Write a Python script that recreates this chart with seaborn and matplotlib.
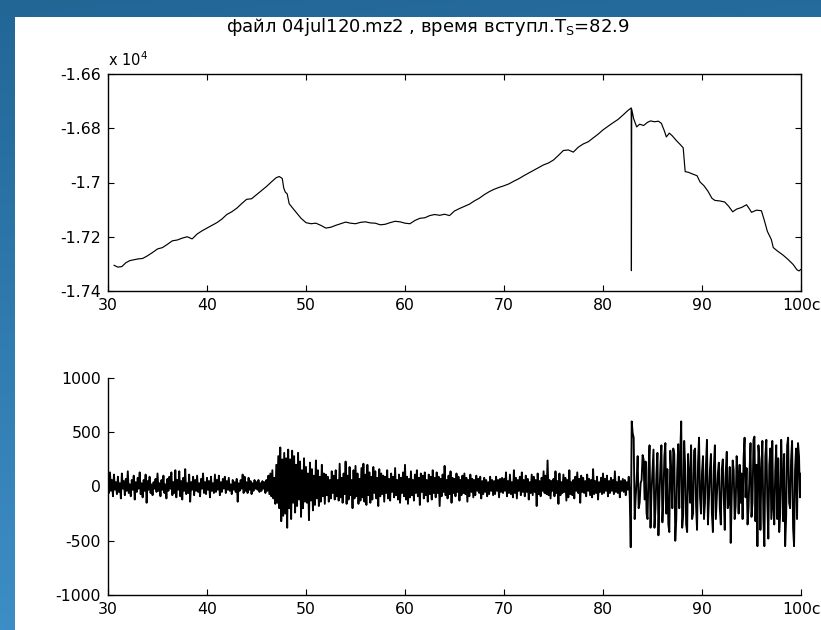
import numpy as np
import pandas as pd
import matplotlib
matplotlib.use("Agg")
import matplotlib.pyplot as plt
from matplotlib.patches import Rectangle
import seaborn as sns

# ---------------- data ----------------
title_text = "файл 04jul120.mz2 , время вступл.T$_S$=82.9"
x_ticks = [30, 40, 50, 60, 70, 80, 90, 100]
x_tick_labels = ["30", "40", "50", "60", "70", "80", "90", "100c"]
top_y_ticks = [-1.74, -1.72, -1.70, -1.68, -1.66]
top_y_labels = ["-1.74", "-1.72", "-1.7", "-1.68", "-1.66"]
bot_y_ticks = [-1000, -500, 0, 500, 1000]
bot_y_labels = ["-1000", "-500", "0", "500", "1000"]

# upper trace (raw units)
t_top = [30.6, 31.0, 31.4, 31.8, 32.2, 32.6, 33.0, 33.5, 34.0, 34.5, 35.0, 35.5, 36.0, 36.5,
         37.0, 37.5, 38.0, 38.5, 39.0, 39.5, 40.0, 40.5, 41.0, 41.5, 42.0, 42.5, 43.0, 43.5,
         44.0, 44.5, 45.0, 45.5, 46.0, 46.5, 47.0, 47.3, 47.6, 47.75, 47.9, 48.1, 48.3, 48.6,
         49.0, 49.5, 50.0, 50.5, 51.0, 51.5, 52.0, 52.5, 53.0, 53.5, 54.0, 54.5, 55.0, 55.5,
         56.0, 56.5, 57.0, 57.5, 58.0, 58.5, 59.0, 59.5, 60.0, 60.5, 61.0, 61.5, 62.0, 62.5,
         63.0, 63.5, 64.0, 64.5, 65.0, 65.5, 66.0, 66.5, 67.0, 67.5, 68.0, 68.5, 69.0, 69.5,
         70.0, 70.5, 71.0, 71.5, 72.0, 72.5, 73.0, 73.5, 74.0, 74.5, 75.0, 75.5, 76.0, 76.5,
         77.0, 77.5, 78.0, 78.5, 79.0, 79.5, 80.0, 80.5, 81.0, 81.5, 82.0, 82.5, 82.85, 82.87,
         82.9, 83.1, 83.4, 83.7, 84.1, 84.5, 84.8, 85.2, 85.6, 85.9, 86.2, 86.4, 86.7, 87.0,
         87.4, 87.8, 88.1, 88.3, 88.6, 89.0, 89.5, 89.8, 90.2, 90.6, 91.0, 91.3, 91.8, 92.3,
         92.7, 93.1, 93.5, 94.0, 94.5, 94.8, 95.0, 95.5, 96.0, 96.3, 96.6, 97.0, 97.2, 97.6,
         98.2, 98.7, 99.2, 99.6, 99.8, 100.0]
v_top = [-17305, -17312, -17310, -17296, -17288, -17285, -17282, -17280, -17270, -17258,
         -17245, -17240, -17228, -17215, -17212, -17205, -17200, -17208, -17190, -17178,
         -17168, -17158, -17148, -17135, -17118, -17108, -17095, -17078, -17062, -17060,
         -17045, -17030, -17015, -16998, -16982, -16978, -16985, -17020, -17035, -17042,
         -17078, -17092, -17110, -17132, -17148, -17152, -17150, -17158, -17168, -17165,
         -17158, -17152, -17146, -17150, -17152, -17147, -17145, -17149, -17150, -17156,
         -17154, -17148, -17143, -17145, -17150, -17152, -17140, -17132, -17130, -17122,
         -17118, -17121, -17117, -17122, -17105, -17096, -17088, -17080, -17068, -17058,
         -17045, -17034, -17025, -17018, -17012, -17005, -16995, -16986, -16975, -16965,
         -16955, -16945, -16935, -16928, -16917, -16900, -16882, -16880, -16888, -16870,
         -16858, -16850, -16836, -16822, -16806, -16793, -16780, -16768, -16752, -16735,
         -16725, -17325, -16730, -16765, -16795, -16785, -16790, -16778, -16773, -16776,
         -16774, -16782, -16810, -16832, -16818, -16828, -16845, -16860, -16872, -16960,
         -16962, -16968, -16975, -16998, -17012, -17032, -17058, -17066, -17068, -17072,
         -17088, -17108, -17098, -17092, -17082, -17098, -17110, -17102, -17104, -17140,
         -17180, -17210, -17240, -17252, -17268, -17284, -17302, -17322, -17326, -17320]

# lower trace: 10 samples per second from 30 s
t_start = 30.0
dt = 0.1
seg_30_40 = [20, -60, 130, -40, 60, -90, 110, -30, 40, -70,
             90, -50, 30, -110, 120, -20, 50, -80, 70, -40,
             140, -60, 20, -90, 60, -30, 100, -120, 40, -50,
             80, -20, 130, -70, 30, -100, 60, -40, 110, -150,
             50, -30, 90, -60, 20, -80, 40, -20, 70, -50,
             120, -40, 30, -90, 60, -30, 100, -60, 20, -110,
             70, -40, 90, -20, 130, -80, 40, -60, 150, -100,
             60, -30, 140, -90, 50, -120, 80, -40, 160, -70,
             30, -60, 110, -140, 40, -30, 90, -80, 60, -40,
             100, -50, 30, -90, 70, -20, 120, -60, 40, -70]
seg_40_50 = [80, -30, 50, -100, 90, -40, 30, -60, 110, -50,
             60, -30, 100, -80, 40, -50, 70, -20, 90, -60,
             50, -30, 80, -40, 20, -70, 60, -30, 40, -50,
             70, -140, 30, -40, 60, -20, 110, -60, 90, -40,
             40, -60, 80, -30, 50, -70, 30, -40, 60, -20,
             40, -30, 60, -50, 30, -40, 50, -20, 40, -60,
             60, -40, 100, -70, 120, -90, 150, -110, 80, -160,
             200, -150, 280, -200, 360, -320, 250, -270, 310, -250,
             260, -380, 340, -200, 250, -300, 330, -150, 280, -240,
             200, -180, 310, -120, 230, -280, 150, -200, 260, -140]
seg_50_60 = [180, -150, 120, -310, 220, -130, 160, -220, 100, -170,
             240, -110, 150, -180, 90, -140, 200, -90, 120, -160,
             110, -80, 90, -140, 60, -110, 140, -60, 100, -120,
             150, -90, 60, -130, 210, -100, 80, -150, 120, -70,
             230, -160, 100, -120, 180, -80, 60, -200, 150, -110,
             190, -90, 120, -160, 70, -130, 170, -100, 210, -140,
             110, -170, 200, -80, 130, -150, 90, -120, 180, -60,
             140, -110, 80, -180, 160, -90, 120, -70, 100, -140,
             90, -60, 150, -110, 70, -130, 120, -50, 90, -100,
             170, -80, 60, -120, 110, -150, 80, -60, 130, -90]
seg_60_70 = [200, -120, 90, -160, 70, -100, 140, -80, 60, -130,
             110, -60, 150, -90, 80, -170, 120, -50, 100, -110,
             130, -80, 60, -140, 110, -70, 90, -120, 150, -60,
             80, -100, 130, -60, 90, -180, 70, -90, 110, -50,
             190, -80, 60, -110, 100, -70, 140, -150, 80, -60,
             70, -90, 120, -50, 90, -130, 60, -80, 100, -60,
             120, -70, 80, -140, 60, -90, 110, -50, 70, -100,
             60, -80, 100, -40, 70, -60, 90, -110, 50, -70,
             80, -50, 60, -90, 40, -70, 90, -40, 60, -80,
             50, -70, 90, -40, 60, -100, 70, -50, 80, -60]
seg_70_80 = [70, -40, 130, -90, 50, -60, 110, -70, 40, -100,
             150, -60, 80, -110, 60, -40, 90, -80, 130, -50,
             60, -90, 100, -50, 70, -120, 40, -60, 110, -80,
             90, -50, 60, -180, 120, -70, 50, -90, 80, -40,
             140, -60, 100, -70, 240, -80, 60, -110, 50, -40,
             70, -90, 140, -60, 50, -160, 120, -80, 40, -60,
             110, -50, 80, -130, 60, -100, 150, -70, 40, -80,
             60, -110, 90, -40, 130, -60, 70, -150, 100, -50,
             80, -60, 50, -90, 110, -40, 70, -80, 60, -100,
             160, -70, 50, -60, 90, -120, 40, -50, 80, -70]
seg_80_90 = [120, -60, 70, -40, 100, -90, 50, -60, 80, -40,
             60, -70, 140, -50, 40, -60, 90, -100, 50, -40,
             70, -50, 60, -80, 40, -30, 90, -90, -560, 600,
             490, 450, -300, -100, 60, 280, -200, -150, 30, 60,
             290, 250, -120, 230, -250, -300, 150, 380, -380, -50,
             140, 340, -380, -200, 120, 310, -450, -100, 200, 380,
             -330, -100, 280, 400, -250, 160, -350, -420, 330, 120,
             -200, 350, 300, -500, -300, 150, 390, -200, 300, 600,
             -380, -260, 420, 180, -350, -420, 300, 100, -150, 380,
             -300, -250, 330, 350, -180, -400, 220, 450, -100, -250]
seg_90_100 = [130, 280, -300, -150, 200, 430, -350, -120, 150, 300,
              -250, -420, 180, 380, -300, -80, 120, 220, -200, -350,
              160, 250, -100, -400, 130, 320, -200, -150, 180, -520,
              -100, 240, 150, -300, -180, 280, 100, -250, 200, -150,
              120, -300, 260, 450, -100, 170, -350, -200, 130, 400,
              -280, -150, 430, 460, -320, 200, -550, 380, 250, -400,
              150, 420, -300, -550, 280, 430, -150, -480, 200, 350,
              -300, 420, -200, -350, 150, 380, -300, 260, -420, -250,
              430, 100, -320, 300, -550, -280, 380, 450, -150, -200,
              250, 420, -380, -550, 150, 350, -300, 400, 280, -100, 120]

bottom_vals = (seg_30_40 + seg_40_50 + seg_50_60 + seg_60_70 +
               seg_70_80 + seg_80_90 + seg_90_100)
t_bot = t_start + dt * np.arange(len(bottom_vals))

df_top = pd.DataFrame({"t": t_top, "v": np.array(v_top) / 1e4})
df_bot = pd.DataFrame({"t": t_bot, "v": bottom_vals})

# ---------------- style ----------------
sns.set_style("white")
plt.rcParams["font.family"] = ["DejaVu Sans"]
plt.rcParams["mathtext.default"] = "regular"
plt.rcParams["text.color"] = "black"
plt.rcParams["xtick.color"] = "black"
plt.rcParams["ytick.color"] = "black"
FS = 11.3

W, H = 821, 630
fig = plt.figure(figsize=(W / 100, H / 100), dpi=100)

# background: blue gradient frame with white panel
bg = fig.add_axes([0, 0, 1, 1], zorder=-10)
ny, nx = 200, 200
yy, xx = np.mgrid[0:1:ny * 1j, 0:1:nx * 1j]
c_top = np.array([0x22, 0x66, 0x96]) / 255
c_bot = np.array([0x3d, 0x8e, 0xc6]) / 255
c_right = np.array([0x2c, 0x78, 0xa8]) / 255
img = c_top[None, None, :] * (1 - yy[..., None]) + c_bot[None, None, :] * yy[..., None]
img = img * (1 - 0.3 * xx[..., None]) + c_right[None, None, :] * 0.3 * xx[..., None]
bg.imshow(img, extent=[0, 1, 0, 1], aspect="auto", origin="upper")
bg.add_patch(Rectangle((15 / W, 0), 1 - 15 / W, 1 - 17 / H, facecolor="white",
                       edgecolor="none"))
bg.set_xlim(0, 1)
bg.set_ylim(0, 1)
bg.axis("off")

ax1 = fig.add_axes([108 / W, 1 - 291 / H, (801 - 108) / W, (291 - 74) / H])
ax2 = fig.add_axes([108 / W, 1 - 595 / H, (801 - 108) / W, (595 - 378) / H])

sns.lineplot(data=df_top, x="t", y="v", ax=ax1, color="black", linewidth=0.85,
             estimator=None, sort=False)
sns.lineplot(data=df_bot, x="t", y="v", ax=ax2, color="black", linewidth=1.35,
             estimator=None, sort=False)

for ax in (ax1, ax2):
    ax.set_facecolor("white")
    ax.set_xlim(30, 100)
    ax.set_xticks(x_ticks)
    ax.set_xticklabels(x_tick_labels, fontsize=FS)
    ax.set_xlabel("")
    ax.set_ylabel("")
    for s in ax.spines.values():
        s.set_color("black")
        s.set_linewidth(1.0)

ax1.set_ylim(-1.74, -1.66)
ax1.set_yticks(top_y_ticks)
ax1.set_yticklabels(top_y_labels, fontsize=FS)
ax1.tick_params(direction="in", length=4, width=0.8, top=True, right=True,
                bottom=True, left=True, pad=5, colors="black")

ax2.set_ylim(-1000, 1000)
ax2.set_yticks(bot_y_ticks)
ax2.set_yticklabels(bot_y_labels, fontsize=FS)
sns.despine(ax=ax2, top=True, right=True)
ax2.tick_params(direction="in", length=4, width=0.8, top=False, right=False,
                bottom=True, left=True, pad=5, colors="black")

ax1.text(0.0, 1.025, "x 10$^{4}$", transform=ax1.transAxes, fontsize=FS - 0.8,
         ha="left", va="bottom", color="black")
fig.text(428 / W, 1 - 27 / H, title_text, fontsize=13, ha="center", va="center",
         color="black")

fig.savefig("out.png", dpi=100)
